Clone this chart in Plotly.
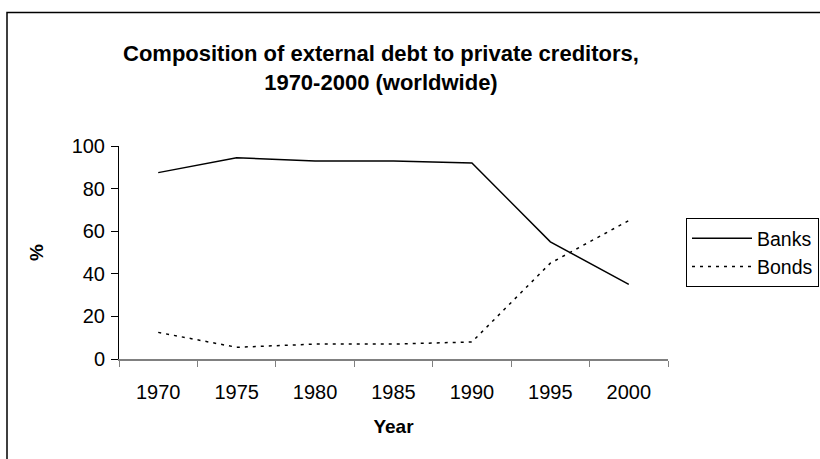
import plotly.graph_objects as go

years = ["1970", "1975", "1980", "1985", "1990", "1995", "2000"]
banks = [87.5, 94.5, 93, 93, 92, 55, 35]
bonds = [12.5, 5.5, 7, 7, 8, 45, 65]
y_ticks = [0, 20, 40, 60, 80, 100]

W, H = 820, 459
L, R, T, B = 119, 152, 146, 100
pw, ph = W - L - R, H - T - B

def px(x):
    return (x - L) / pw

def py(y):
    return (H - B - y) / ph

font = "Liberation Sans, Arial, sans-serif"

fig = go.Figure()
fig.add_trace(go.Scatter(x=years, y=banks, mode="lines", name="Banks",
                         line=dict(color="black", width=1.5)))
fig.add_trace(go.Scatter(x=years, y=bonds, mode="lines", name="Bonds",
                         line=dict(color="black", width=1.5, dash="3px,5px")))

fig.update_layout(
    width=W, height=H,
    margin=dict(l=L, r=R, t=T, b=B, autoexpand=False),
    paper_bgcolor="white", plot_bgcolor="white",
    font=dict(family=font, size=20, color="black"),
    showlegend=True,
    legend=dict(x=px(686), y=py(218), xanchor="left", yanchor="top",
                bordercolor="black", borderwidth=1, bgcolor="white",
                font=dict(size=19.5), itemwidth=60, tracegroupgap=0),
    xaxis=dict(type="category", range=[-0.5, 6.5], tickson="boundaries",
               ticks="outside", ticklen=6, tickcolor="#808080",
               showline=True, linecolor="#808080", linewidth=1.5,
               ticklabelstandoff=14,
               showgrid=False, zeroline=False,
               title=dict(text="<b>Year</b>", font=dict(size=19), standoff=18)),
    yaxis=dict(range=[0, 100], tickvals=y_ticks, ticks="outside", ticklen=7,
               tickcolor="black", showline=True, linecolor="black", linewidth=1,
               ticklabelstandoff=2,
               showgrid=False, zeroline=False,
               title=dict(text="<b>%</b>", font=dict(size=19), standoff=22)),
)

fig.add_annotation(text="<b>Composition of external debt to private creditors,<br>1970-2000 (worldwide)</b>",
                   xref="paper", yref="paper", x=px(381), y=py(68),
                   xanchor="center", yanchor="middle", showarrow=False,
                   font=dict(size=22, family=font), align="center")

fig.add_shape(type="rect", xref="paper", yref="paper",
              x0=px(7), x1=px(830), y0=py(12.5), y1=py(470),
              line=dict(color="black", width=1.5), layer="below")

fig.write_html("out.html")
